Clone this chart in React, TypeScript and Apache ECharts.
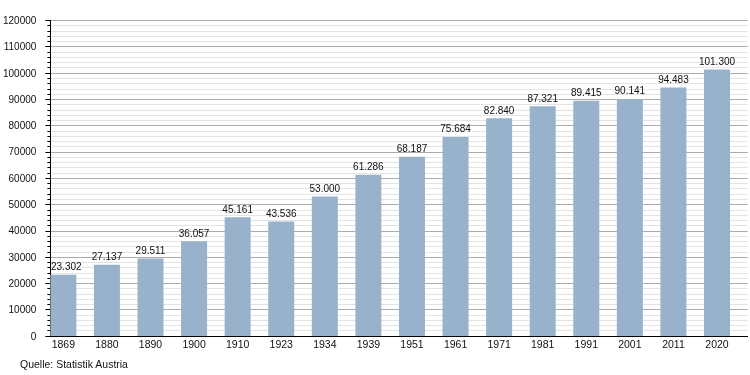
import React, { useEffect, useRef } from "react";
import * as echarts from "echarts";

const years = ["1869", "1880", "1890", "1900", "1910", "1923", "1934", "1939", "1951", "1961", "1971", "1981", "1991", "2001", "2011", "2020"];
const population = [23302, 27137, 29511, 36057, 45161, 43536, 53000, 61286, 68187, 75684, 82840, 87321, 89415, 90141, 94483, 101300];
const spacer = years.map(() => null);
const sourceText = "Quelle: Statistik Austria";

const fmt = (v: number) => String(v).replace(/\B(?=(\d{3})+(?!\d))/g, ".");

export default function App() {
  const ref = useRef<HTMLDivElement>(null);
  useEffect(() => {
    if (!ref.current) return;
    const chart = echarts.init(ref.current, null, { renderer: "svg" });
    const font = "'Liberation Sans', Arial, sans-serif";
    const barData = population.map((v, i) => (i === 0 ? { value: v, label: { offset: [3, 0] } } : v));
    chart.setOption({
      animation: false,
      textStyle: { fontFamily: font },
      grid: { left: 50, right: 2.4, top: 20.4, bottom: 39, containLabel: false },
      xAxis: {
        type: "category",
        data: years,
        boundaryGap: true,
        axisLine: { show: true, lineStyle: { color: "#000", width: 1 } },
        axisTick: { show: false },
        axisLabel: { color: "#111", fontSize: 10.5, fontFamily: font, margin: 2, padding: [0, 17.6, 0, 0], interval: 0 },
        splitLine: { show: false },
      },
      yAxis: {
        type: "value",
        min: 0,
        max: 120000,
        interval: 10000,
        axisLine: { show: true, onZero: false, lineStyle: { color: "#000", width: 1 } },
        axisTick: { show: true, length: 5, lineStyle: { color: "#000" } },
        minorTick: { show: true, splitNumber: 5, length: 3, lineStyle: { color: "#000" } },
        axisLabel: { color: "#111", fontSize: 10, fontFamily: font, margin: 14, formatter: (v: number) => String(v) },
        splitLine: { show: true, lineStyle: { color: "#ababab", width: 1 } },
        minorSplitLine: { show: true, lineStyle: { color: "#e4e4e4", width: 1 } },
      },
      series: [
        {
          type: "bar",
          data: barData,
          barWidth: 26,
          barGap: "0%",
          clip: false,
          z: 3,
          itemStyle: { color: "#98b2cb" },
          label: {
            show: true,
            position: "top",
            distance: 3,
            color: "#111",
            fontSize: 10,
            fontFamily: font,
            formatter: (p: any) => fmt(p.value),
          },
        },
        {
          type: "bar",
          data: spacer,
          barWidth: 17.6,
          barGap: "0%",
          itemStyle: { color: "transparent" },
        },
      ],
      graphic: [
        {
          type: "text",
          left: 20,
          top: 358,
          style: { text: sourceText, fill: "#111", fontSize: 10.5, fontFamily: font },
        },
      ],
    });
    return () => chart.dispose();
  }, []);
  return <div ref={ref} style={{ width: 750, height: 375, position: "fixed", left: 0, top: 0 }} />;
}
